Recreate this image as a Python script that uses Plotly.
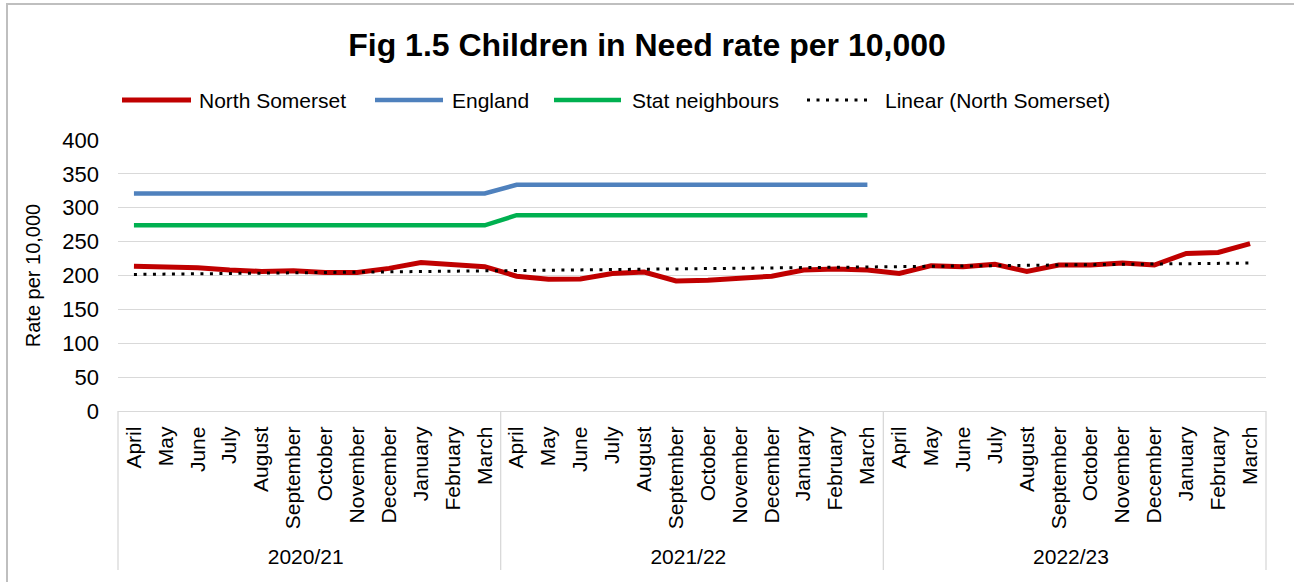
import numpy as np
import plotly.graph_objects as go

years = ["2020/21", "2021/22", "2022/23"]
months = ["April", "May", "June", "July", "August", "September", "October",
          "November", "December", "January", "February", "March"]

north_somerset = [213.5, 212, 211.5, 208, 206, 207, 204.5, 204.5, 210.5, 219, 216.5, 213,
                  199, 194.5, 195, 203, 205, 192, 193, 195.5, 199, 208, 209.5, 208,
                  203, 214.5, 213, 216.5, 206, 215.5, 215.5, 218.5, 215.5, 232.5, 234, 247]
england = [321] * 12 + [334] * 12
stat_neighbours = [274] * 12 + [289] * 12

x_year = [y for y in years for _ in months]
x_month = months * len(years)

# Least-squares trend of the North Somerset series
idx = np.arange(len(north_somerset))
slope, intercept = np.polyfit(idx, north_somerset, 1)
trend = (intercept + slope * idx).tolist()

FONT = "Liberation Sans, Arial, sans-serif"
W, H = 1294, 582
PL, PR, PT, PB = 118, 1266, 140, 411          # plot-area edges in pixels
PW, PH = PR - PL, PB - PT


def px_x(px):
    return (px - PL) / PW


def px_y(py):
    return (PB - py) / PH


series_style = {
    "North Somerset": dict(color="#c00000", width=5),
    "England": dict(color="#4f81bd", width=4.5),
    "Stat neighbours": dict(color="#00b050", width=4.5),
    "Linear (North Somerset)": dict(color="#000000", width=3, dash="3px,6.5px"),
}

fig = go.Figure()
fig.add_trace(go.Scatter(x=[x_year, x_month], y=north_somerset, name="North Somerset",
                         mode="lines", line=series_style["North Somerset"]))
fig.add_trace(go.Scatter(x=[x_year[:24], x_month[:24]], y=england, name="England",
                         mode="lines", line=series_style["England"]))
fig.add_trace(go.Scatter(x=[x_year[:24], x_month[:24]], y=stat_neighbours, name="Stat neighbours",
                         mode="lines", line=series_style["Stat neighbours"]))
fig.add_trace(go.Scatter(x=[x_year, x_month], y=trend, name="Linear (North Somerset)",
                         mode="lines", line=series_style["Linear (North Somerset)"]))

shapes = []
annotations = []

# Legend row drawn as line samples and labels
legend_items = [("North Somerset", 122, 191, 197),
                ("England", 375, 443, 450),
                ("Stat neighbours", 554, 621, 630),
                ("Linear (North Somerset)", 807, 870, 883)]
ly = px_y(100)
for name, x0, x1, tx in legend_items:
    st = series_style[name]
    shapes.append(dict(type="line", xref="paper", yref="paper",
                       x0=px_x(x0), x1=px_x(x1), y0=ly, y1=ly,
                       line=dict(color=st["color"], width=st["width"],
                                 dash=st.get("dash", "solid"))))
    annotations.append(dict(text=name, xref="paper", yref="paper", x=px_x(tx), y=ly,
                            xanchor="left", yanchor="middle", showarrow=False,
                            font=dict(size=21, color="#000000", family=FONT)))

# Group separators below the category axis
for fx in [0, 1 / 3, 2 / 3, 1]:
    shapes.append(dict(type="line", xref="paper", yref="paper", x0=fx, x1=fx,
                       y0=0, y1=px_y(570), line=dict(color="#d9d9d9", width=1.3)))

# Outer chart border
shapes.append(dict(type="rect", xref="paper", yref="paper",
                   x0=px_x(7), x1=px_x(W + 20), y0=px_y(W), y1=px_y(4),
                   line=dict(color="#bfbfbf", width=2)))

fig.update_layout(
    width=W, height=H,
    margin=dict(l=PL, r=W - PR, t=PT, b=H - PB),
    paper_bgcolor="white", plot_bgcolor="white",
    font=dict(family=FONT, color="#000000"),
    title=dict(text="<b>Fig 1.5 Children in Need rate per 10,000</b>",
               x=0.5, xanchor="center", y=1 - 45 / H, yanchor="middle",
               font=dict(size=32, color="#000000")),
    showlegend=False,
    shapes=shapes,
    annotations=annotations,
)

fig.update_yaxes(range=[0, 400], dtick=50, showgrid=True, gridcolor="#d9d9d9", gridwidth=1.3,
                 zeroline=False, showline=False, ticks="", ticklabelstandoff=18,
                 tickfont=dict(size=22, color="#000000"),
                 title=dict(text="Rate per 10,000", font=dict(size=20), standoff=16))
fig.update_xaxes(type="multicategory", range=[-0.5, 35.5], showgrid=False,
                 showline=True, linecolor="#d9d9d9", linewidth=1.3,
                 showdividers=False, tickangle=-90, ticks="", ticklabelstandoff=6,
                 tickfont=dict(size=21, color="#000000"))

fig.write_html("out.html")
